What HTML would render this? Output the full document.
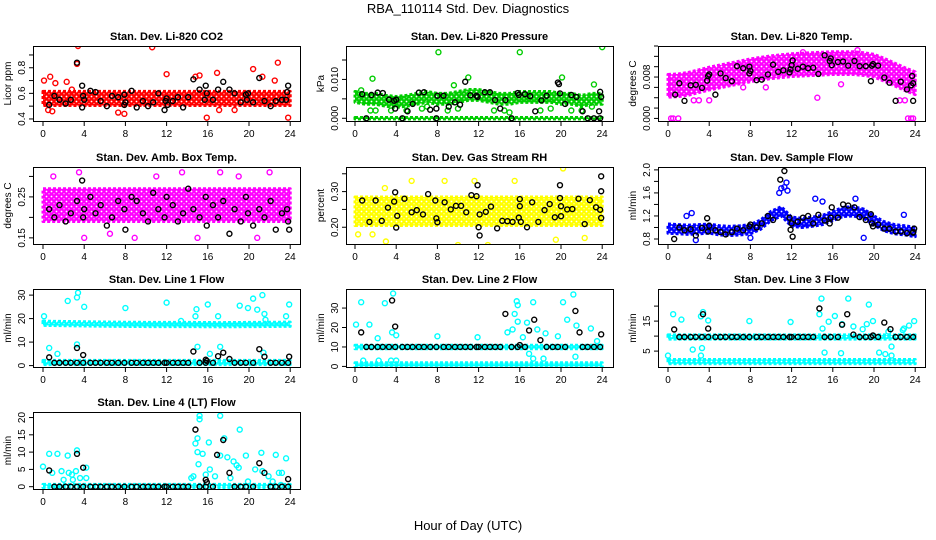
<!DOCTYPE html>
<html><head><meta charset="utf-8"><style>
body{margin:0;background:#fff;}
svg{display:block;font-family:"Liberation Sans",sans-serif;}
</style></head><body>
<svg id="chart" width="936" height="540" viewBox="0 0 936 540">
<defs id="defs"></defs>
<text x="468" y="13" text-anchor="middle" font-size="13">RBA_110114  Std. Dev. Diagnostics</text>
<text x="468" y="530" text-anchor="middle" font-size="13">Hour of Day (UTC)</text>
</svg>
<script>
// ---- data arrays (hourly band centres, spreads, outliers, black points) ----
const xTicks = [0,4,8,12,16,20,24];
const baseHours = [1.1,1.6,2.2,2.7,3.3,3.9,4.6,5.1,5.6,6.2,6.7,7.3,7.9,8.6,9.1,9.7,10.2,10.7,11.2,11.8,12,12.6,13.1,13.6,14.1,15.2,15.8,16.5,18.6,19.2,19.7,20.4,22.1,22.6,23.2,23.8];

const co2Mid = [0.56,0.56];
const co2Spread = 0.055;
const co2Out = [[3.3,0.83],[3.4,0.97],[10.6,0.96],[0.7,0.73],[12,0.75],[16.9,0.76],[20.4,0.79],[22.8,0.84],[21.3,0.73],[23.8,0.41],[15.9,0.41],[7.9,0.44],[0.1,0.7],[2.3,0.69],[7.3,0.45],[14.8,0.73],[15.2,0.74],[22.5,0.7],[17.1,0.47],[1.2,0.68],[2.8,0.63],[18.6,0.47],[0.5,0.47],[0.9,0.46]];
const co2Black = [[0.6,0.51],[1.1,0.58],[1.6,0.55],[2.2,0.52],[2.7,0.55],[3.3,0.84],[3.8,0.66],[3.9,0.58],[4.0,0.55],[3.8,0.49],[4.6,0.62],[5.1,0.61],[5.6,0.54],[6.2,0.5],[6.7,0.58],[7.3,0.57],[7.9,0.59],[7.9,0.51],[8,0.53],[8.6,0.62],[9.1,0.49],[9.7,0.54],[10.2,0.5],[10.7,0.53],[11.2,0.6],[11.8,0.47],[11.9,0.54],[12,0.56],[12.1,0.51],[12.6,0.54],[13.1,0.57],[13.6,0.49],[14.1,0.57],[14.6,0.71],[15.2,0.63],[15.7,0.55],[15.8,0.66],[15.9,0.6],[16.5,0.55],[17,0.63],[17.5,0.69],[18.1,0.63],[18.6,0.6],[19.2,0.53],[19.7,0.59],[19.8,0.55],[19.9,0.6],[20.4,0.53],[21,0.72],[21.5,0.54],[22.1,0.5],[22.6,0.54],[23.2,0.55],[23.6,0.55],[23.7,0.61],[23.8,0.66]];

const presZeroMid = [0,0];
const presZeroSpread = 0.0002;
const presMid = [0.0055,0.005,0.005,0.0045,0.0042,0.0045,0.005,0.0055,0.005,0.005,0.0055,0.006,0.006,0.0055,0.005,0.005,0.0055,0.0055,0.0055,0.0055,0.005,0.005,0.0045,0.005,0.005];
const presSpread = 0.0014;
const presOut = [[8.1,0.017],[16,0.017],[24,0.0183],[1.7,0.0102],[11,0.0105],[20.1,0.0105],[23.2,0.0087],[9.6,0.0085],[0.6,0.0072],[1.5,0.002],[2,0.002],[3.5,0.002],[5,0.002],[6.5,0.0025],[7,0.003],[9,0.002],[10,0.0025],[13.5,0.002],[14.5,0.002],[15,0.0015],[18,0.002],[19,0.0025],[21,0.002],[22,0.002],[23,0.003]];
const presBlack = [[0.7,0.0062],[1.1,0],[1.6,0.006],[2.2,0.0066],[2.7,0.0065],[3.3,0.0048],[3.8,0.0045],[3.9,0.0025],[4,0.0048],[4.6,0],[5.1,0.0018],[5.6,0.0037],[6.2,0.0066],[6.7,0.0067],[7.3,0.0022],[7.9,0.0025],[7.9,0],[8,0.0058],[8.6,0.0058],[9.1,0.003],[9.7,0.0041],[10.2,0.0035],[10.7,0.0094],[11.2,0.0059],[11.8,0.0058],[11.9,0.0055],[12.6,0.0067],[13.1,0.0067],[13.6,0.0047],[14.1,0.0025],[14.6,0.0047],[15.2,0],[15.8,0.0065],[15.9,0.006],[16.5,0.0062],[17,0.0057],[17.5,0.0018],[18.1,0.0046],[18.6,0.0058],[19.7,0.0092],[19.8,0.0088],[19.9,0.0064],[20.4,0.0037],[21,0.006],[21.5,0.0055],[22.1,0.0018],[22.6,0],[23.2,0],[23.7,0.0018],[23.8,0.0068],[23.9,0.0055],[23.8,0]];

const tempMid = [0.0063,0.0064,0.0067,0.0072,0.0077,0.0081,0.0085,0.0089,0.0093,0.0096,0.0099,0.0101,0.0103,0.0104,0.0105,0.0106,0.0107,0.0107,0.0107,0.0105,0.0102,0.0094,0.0085,0.0076,0.0068];
const tempSpread = 0.0022;
const tempOut = [[0.3,0],[0.5,0],[1,0],[23.3,0],[23.6,0],[23.8,0],[2.5,0.0035],[3,0.0035],[4,0.0035],[14.5,0.004],[22.5,0.0035],[23,0.0035],[13.1,0.0128],[18.4,0.0132],[7.3,0.006],[9.5,0.006],[16.8,0.0066]];
const tempBlack = [[0.7,0.0046],[1.1,0.0068],[1.6,0.0034],[2.2,0.0064],[2.7,0.0065],[3.3,0.0059],[3.8,0.0073],[3.9,0.0082],[4,0.0085],[4.6,0.0046],[5.1,0.0087],[5.6,0.0078],[6.2,0.0072],[6.7,0.0101],[7.3,0.0097],[7.9,0.0087],[7.9,0.01],[8,0.0092],[8.6,0.0074],[9.1,0.0075],[9.7,0.0085],[10.2,0.0104],[10.7,0.009],[11.2,0.0093],[11.8,0.0089],[11.9,0.0095],[12,0.0103],[12.1,0.0112],[12.6,0.0096],[13.1,0.01],[13.6,0.0097],[14.1,0.0098],[14.6,0.0086],[15.2,0.0122],[15.7,0.0111],[15.8,0.0116],[15.9,0.0103],[16.5,0.0109],[17,0.011],[17.5,0.0102],[18.1,0.0111],[18.6,0.0101],[19.2,0.0101],[19.7,0.0072],[19.8,0.0102],[19.9,0.0105],[20.4,0.0102],[21,0.0079],[21.5,0.0069],[22.1,0.0034],[22.6,0.0071],[23.2,0.0056],[23.6,0.0064],[23.7,0.0082],[23.8,0.0068],[23.8,0.0034]];

const ambMid = [0.23,0.23];
const ambSpread = 0.04;
const ambOut = [[3.5,0.31],[4,0.15],[8.9,0.15],[11,0.3],[13.5,0.31],[17.2,0.31],[19,0.3],[20.8,0.15],[22,0.31],[1,0.3],[6.5,0.16],[15,0.15]];
const ambBlack = [[0.6,0.22],[1.1,0.2],[1.6,0.23],[2.2,0.19],[2.7,0.21],[3.3,0.24],[3.8,0.29],[3.9,0.2],[4,0.22],[4.6,0.25],[5.1,0.21],[5.6,0.23],[6.2,0.18],[6.7,0.2],[7.3,0.24],[7.9,0.22],[8,0.17],[8.6,0.25],[9.1,0.24],[9.7,0.21],[10.2,0.19],[10.7,0.26],[11.2,0.22],[11.8,0.2],[12,0.25],[12.6,0.23],[13.1,0.19],[13.6,0.21],[14.1,0.27],[14.6,0.22],[15.2,0.2],[15.8,0.25],[15.9,0.18],[16.5,0.23],[17,0.2],[17.5,0.24],[18.1,0.16],[18.6,0.22],[19.2,0.19],[19.7,0.25],[19.9,0.21],[20.4,0.18],[21,0.22],[21.5,0.2],[22.1,0.24],[22.6,0.17],[23.2,0.21],[23.7,0.22],[23.8,0.19],[23.9,0.17]];

const rhMid = [0.245,0.245];
const rhSpread = 0.04;
const rhOut = [[20.2,0.365],[12.9,0.15],[10,0.15],[3,0.16],[5.5,0.33],[15.5,0.33],[8.7,0.33],[22.3,0.17],[19.5,0.165],[0.3,0.18],[1.7,0.18],[11.6,0.33],[2.9,0.31]];
const rhBlack = [[0.7,0.275],[1.4,0.215],[2,0.275],[2.6,0.218],[3.2,0.255],[3.8,0.272],[3.9,0.298],[4,0.199],[4.1,0.232],[4.8,0.28],[5.5,0.242],[6,0.248],[6.6,0.236],[7.1,0.293],[7.8,0.275],[7.9,0.225],[8,0.214],[8.7,0.27],[9.3,0.25],[9.8,0.26],[10.3,0.26],[10.8,0.242],[11.3,0.29],[11.8,0.287],[11.9,0.318],[12,0.2],[12.1,0.177],[12.1,0.236],[12.7,0.243],[13.2,0.258],[13.8,0.197],[14.3,0.218],[14.8,0.217],[15.3,0.215],[15.9,0.227],[16,0.259],[16,0.279],[16.1,0.215],[16.7,0.2],[17.2,0.27],[17.8,0.215],[18.4,0.248],[18.9,0.265],[19.4,0.228],[19.9,0.282],[19.9,0.318],[20,0.259],[20,0.231],[20.6,0.25],[21.1,0.251],[21.7,0.28],[22.3,0.209],[22.8,0.276],[23.4,0.256],[23.8,0.249],[23.9,0.226],[23.9,0.301],[23.9,0.343]];

const flowMid = [0.98,0.97,0.96,0.97,0.98,0.95,0.94,0.95,0.97,1.05,1.2,1.28,1.1,1.08,1.1,1.13,1.2,1.27,1.28,1.24,1.12,1.02,0.97,0.95,0.92];
const flowSpread = 0.08;
const flowOut = [[10.8,1.6],[11,1.68],[11.3,1.7],[11.5,1.78],[11.6,1.64],[14.3,1.5],[15,1.45],[18.2,1.5],[19,0.82],[8,0.82],[2.3,1.25],[1.8,1.2],[2.7,0.78],[22.9,1.22]];
const flowBlack = [[0.6,0.8],[1.1,1.0],[1.6,0.95],[2.2,0.97],[2.7,0.86],[3.3,0.99],[3.8,1.16],[3.9,0.93],[4,1.03],[4.6,0.95],[5.1,0.92],[5.6,0.88],[6.2,0.92],[6.7,0.98],[7.3,0.95],[7.9,1.02],[8,1.05],[8.6,1.0],[9.1,1.07],[9.7,1.2],[10.2,1.13],[10.9,1.83],[11.3,1.98],[11.8,1.17],[11.9,0.96],[12,1.07],[12.1,0.84],[12.6,1.1],[13.1,1.17],[13.6,1.2],[14.1,1.07],[14.6,1.22],[15.2,1.12],[15.7,1.07],[15.8,1.17],[15.9,1.35],[16.5,1.17],[17,1.4],[17.5,1.38],[18.1,1.35],[18.6,1.18],[19.2,1.13],[19.7,1.23],[19.8,1.07],[19.9,1.02],[20.4,1.05],[21,0.98],[21.5,0.98],[22.1,0.93],[22.6,0.93],[23.2,0.9],[23.8,0.91],[23.9,0.98],[23.8,0.92]];

const line1HighMid = [18,17.8,17.6,17.5,17.5,17.4,17.5,17.6];
const line1LowMid = [1.3,1.3];
const line1Spread = 0.9;
const line1BaseVal = 1.2;
const line1Out = [[0.1,21],[0.6,7.5],[3.3,29],[3.4,31],[3.3,9],[2.4,27.5],[4,25],[8,24.5],[12,26.8],[14.9,24],[14.8,21],[16,26],[15,8],[17.2,8],[19.1,25.5],[19.9,24.5],[20.4,28.5],[20.8,23.8],[21.3,30],[21.5,22],[23.9,26],[23.6,21],[1.4,5],[16.2,5],[21.4,5.5],[13.4,19],[17,21],[21.6,19.5]];
const line1Black = [[0.6,3.5],[3.3,7.5],[3.9,4.5],[14.6,6],[15.8,2.5],[15.9,2],[17,4],[17.5,5.5],[18.1,2.8],[21,7],[21.5,3.8],[23.9,3.8]];

const line2HighMid = [10,10];
const line2LowMid = [1,1];
const line2Spread = 0.9;
const line2BaseVal = 10;
const line2Out = [[0.1,21.5],[0.6,33],[1.4,21.5],[2.2,14.5],[2.9,32.5],[3.7,37.5],[3.6,17.5],[4,16],[8,15.5],[11.9,15],[15.7,33.5],[15.8,31.5],[15.5,27],[15.8,23],[16.3,15],[16.7,22.5],[17.3,33],[17.7,19],[19.7,15.5],[20.2,33],[20.6,24],[21.2,37],[21.5,21],[22.9,19.5],[23.5,13],[18.5,17],[14.8,17.5],[15.3,19],[17.3,4],[18.3,4],[21.4,5],[16.9,6.5],[2.3,3],[4,3],[3.5,3],[0.8,3]];
const line2Black = [[0.6,17.5],[3.6,33.9],[3.9,20.5],[14.6,27],[16.9,18.5],[17.4,24],[18,13.5],[21.4,28.5],[21.8,17.5],[23.9,16.5],[16,11]];

const line3HighMid = [9.7,9.7];
const line3LowMid = [1.5,1.5];
const line3Spread = 0.7;
const line3BaseVal = 9.7;
const line3Out = [[0.5,17.3],[1.3,15.5],[2.4,5.5],[3.2,16.6],[3.4,18],[3.9,15.2],[3.3,6],[3.2,3.5],[0,3.5],[7.9,15],[11.9,14.7],[14.7,17.3],[14.9,22.5],[15,12.5],[15.2,4.5],[15.6,14.8],[16.2,16.7],[16.8,4.3],[16.9,14],[17.5,22.5],[18,13.2],[18.9,12.3],[19.3,14],[19.5,20.5],[19.9,15],[20.5,4.5],[21.1,4],[21.4,11.5],[21.7,6.5],[21.7,3.5],[22.8,12],[23.4,13.5],[23.9,15],[22.9,12.5]];
const line3Black = [[0.6,12.2],[3.4,17.3],[3.9,12.5],[14.7,19.2],[16.9,13.8],[17.4,17.3],[21,14.5],[21.6,12.3],[18,10.5],[19.9,10.2]];

const line4LowMid = [0.2,0.2];
const line4Spread = 0.45;
const line4BaseVal = 0;
const line4Out = [[0,5.8],[0.6,9.5],[0.9,4],[1.4,9.5],[1.8,4.5],[2,2],[2.4,9],[2.5,4],[2.8,3.5],[2.9,2],[3.3,10.5],[3.2,4.5],[3.6,2.5],[4.2,5.5],[4.2,2.5],[14.4,2.5],[14.6,3],[14.8,12.5],[15,14],[15,10],[15.1,6.5],[15.2,20.5],[15.2,19.5],[15.5,9.5],[15.8,3.5],[16.1,12.8],[16.2,5],[16.7,3],[17.2,20.5],[17.2,9],[17.6,14],[17.9,8.5],[18.2,2.5],[18.5,7.3],[18.8,6.2],[19.1,16.5],[19,5.5],[19.7,9],[19.9,1.5],[20.6,5],[21.2,9.8],[21.3,4.5],[21.9,3],[22.3,1.5],[22.6,9.2],[22.9,4],[23.2,4],[23.6,8.2],[23.1,0.5]];
const line4Black = [[0.6,4.7],[3.3,9.5],[3.9,5.5],[14.8,16.5],[15.8,2],[15.9,1.3],[16.9,9.2],[17.5,13.5],[18.1,4],[21,6.8],[21.5,4],[23.8,2.2]];

// ---- layout ----
const colX0 = [43,355,668];
const boxL = [33,346,658];
const boxW = 267;
const rowTop = [46,167,289,412];
const boxH = [75,77,78,77];
const hourPx = 10.3;

const panels = [
 {name:'li820-co2',title:'Stan. Dev. Li-820 CO2',ylab:'Licor ppm',col:0,row:0,color:'#ff0000',ymin:0.384,ymax:0.97,ticks:[0.4,0.5,0.6,0.7,0.8,0.9],labels:[0.4,0.6,0.8],fmt:1,
  bands:[[co2Mid,co2Spread]],out:co2Out,black:co2Black},
 {name:'li820-pressure',title:'Stan. Dev. Li-820 Pressure',ylab:'kPa',col:1,row:0,color:'#00cd00',ymin:-0.0007,ymax:0.0186,ticks:[0,0.005,0.01,0.015],labels:[0,0.01],fmt:3,
  bands:[[presZeroMid,presZeroSpread],[presMid,presSpread]],out:presOut,black:presBlack},
 {name:'li820-temp',title:'Stan. Dev. Li-820 Temp.',ylab:'degrees C',col:2,row:0,color:'#ff00ff',ymin:-0.0005,ymax:0.014,ticks:[0,0.002,0.004,0.006,0.008,0.01,0.012,0.014],labels:[0,0.008],fmt:3,
  bands:[[tempMid,tempSpread]],out:tempOut,black:tempBlack},
 {name:'amb-box-temp',title:'Stan. Dev. Amb. Box Temp.',ylab:'degrees C',col:0,row:1,color:'#ff00ff',ymin:0.135,ymax:0.323,ticks:[0.15,0.2,0.25,0.3],labels:[0.15,0.25],fmt:2,
  bands:[[ambMid,ambSpread]],out:ambOut,black:ambBlack},
 {name:'gas-stream-rh',title:'Stan. Dev. Gas Stream RH',ylab:'percent',col:1,row:1,color:'#ffff00',ymin:0.153,ymax:0.369,ticks:[0.2,0.25,0.3,0.35],labels:[0.2,0.3],fmt:2,
  bands:[[rhMid,rhSpread]],out:rhOut,black:rhBlack},
 {name:'sample-flow',title:'Stan. Dev. Sample Flow',ylab:'ml/min',col:2,row:1,color:'#0000ff',ymin:0.713,ymax:2.05,ticks:[0.8,1.0,1.2,1.4,1.6,1.8,2.0],labels:[0.8,1.2,1.6,2.0],fmt:1,
  bands:[[flowMid,flowSpread]],out:flowOut,black:flowBlack},
 {name:'line1-flow',title:'Stan. Dev. Line 1 Flow',ylab:'ml/min',col:0,row:2,color:'#00ffff',ymin:-0.6,ymax:32.6,ticks:[0,10,20,30],labels:[0,10,20,30],fmt:0,
  bands:[[line1HighMid,line1Spread],[line1LowMid,line1Spread]],out:line1Out,black:line1Black,base:line1BaseVal},
 {name:'line2-flow',title:'Stan. Dev. Line 2 Flow',ylab:'ml/min',col:1,row:2,color:'#00ffff',ymin:-0.3,ymax:39.8,ticks:[0,10,20,30],labels:[0,10,20,30],fmt:0,
  bands:[[line2HighMid,line2Spread],[line2LowMid,line2Spread]],out:line2Out,black:line2Black,base:line2BaseVal},
 {name:'line3-flow',title:'Stan. Dev. Line 3 Flow',ylab:'ml/min',col:2,row:2,color:'#00ffff',ymin:-0.3,ymax:25.7,ticks:[5,10,15,20],labels:[5,15],fmt:0,
  bands:[[line3HighMid,line3Spread],[line3LowMid,line3Spread]],out:line3Out,black:line3Black,base:line3BaseVal},
 {name:'line4-flow',title:'Stan. Dev. Line 4 (LT) Flow',ylab:'ml/min',col:0,row:3,color:'#00ffff',ymin:-0.67,ymax:21.6,ticks:[0,5,10,15,20],labels:[0,5,10,15,20],fmt:0,
  bands:[[line4LowMid,line4Spread]],out:line4Out,black:line4Black,base:line4BaseVal}
];

const NS='http://www.w3.org/2000/svg';
const svg=document.getElementById('chart');
const defs=document.getElementById('defs');
function mk(tag,attrs,parent){const e=document.createElementNS(NS,tag);for(const k in attrs)e.setAttribute(k,attrs[k]);(parent||svg).appendChild(e);return e;}

panels.forEach(p=>{
  const L=boxL[p.col], T=rowTop[p.row], H=boxH[p.row], B=T+H;
  const xs=h=>colX0[p.col]+h*hourPx;
  const ys=v=>B-(v-p.ymin)/(p.ymax-p.ymin)*H;
  const pat=mk('pattern',{id:'p-'+p.name,width:5,height:5,patternUnits:'userSpaceOnUse'},defs);
  mk('rect',{x:0,y:0,width:5,height:5,fill:p.color},pat);
  mk('circle',{cx:1.5,cy:1.5,r:0.9,fill:'#fff'},pat);
  mk('circle',{cx:4,cy:3.8,r:0.6,fill:'#fff'},pat);
  const g=mk('g',{});
  
  
  const clip=mk('clipPath',{id:'c-'+p.name},g);
  mk('rect',{x:L,y:T,width:boxW,height:H},clip);
  const plot=mk('g',{'clip-path':'url(#c-'+p.name+')'},g);
  p.bands.forEach(([mid,sp])=>{
    const n=mid.length, top=[], bot=[];
    mid.forEach((v,i)=>{const h=i*24/(n-1);top.push(xs(h)+','+ys(v+sp));bot.unshift(xs(h)+','+ys(v-sp));});
    const poly=mk('polygon',{points:top.concat(bot).join(' '),fill:'url(#p-'+p.name+')',stroke:p.color,'stroke-width':3,'stroke-linejoin':'round','stroke-dasharray':'3 2'},plot);
    
    
  });
  p.out.forEach(([h,v])=>{
    const c=mk('circle',{cx:xs(h),cy:ys(v),r:2.5,fill:'none',stroke:p.color,'stroke-width':1.4},plot);
    
    
  });
  if(p.base!==undefined){
    baseHours.forEach(h=>{
      const c=mk('circle',{cx:xs(h),cy:ys(p.base),r:2.5,fill:'none',stroke:'#000','stroke-width':1.4},plot);
      
      
    });
  }
  p.black.forEach(([h,v])=>{
    const c=mk('circle',{cx:xs(h),cy:ys(v),r:2.5,fill:'none',stroke:'#000','stroke-width':1.4},plot);
    
    
  });
  const box=mk('rect',{x:L+0.5,y:T+0.5,width:boxW,height:H,fill:'none',stroke:'#000','stroke-width':1},g);
  
  
  const t=mk('text',{x:L+boxW/2,y:T-6,'text-anchor':'middle','font-size':11,'font-weight':'bold'},g);
  t.textContent=p.title;
  
  
  xTicks.forEach(h=>{
    mk('line',{x1:xs(h),x2:xs(h),y1:B+1,y2:B+5,stroke:'#000'},g);
    const lt=mk('text',{x:xs(h),y:B+16,'text-anchor':'middle','font-size':10},g);
    lt.textContent=h;
    
    
  });
  p.ticks.forEach(v=>{
    const y=ys(v); if(y<T-1||y>B+1) return;
    mk('line',{x1:L-4,x2:L,y1:y,y2:y,stroke:'#000'},g);
  });
  p.labels.forEach(v=>{
    const y=ys(v);
    const lt=mk('text',{x:0,y:0,'text-anchor':'middle','font-size':10,transform:`translate(${L-8},${y}) rotate(-90)`},g);
    lt.textContent=v.toFixed(p.fmt);
    
    
  });
  const yl=mk('text',{x:0,y:0,'text-anchor':'middle','font-size':10,transform:`translate(${L-22},${T+H/2}) rotate(-90)`},g);
  yl.textContent=p.ylab;
  
  
});
</script>
</body></html>
